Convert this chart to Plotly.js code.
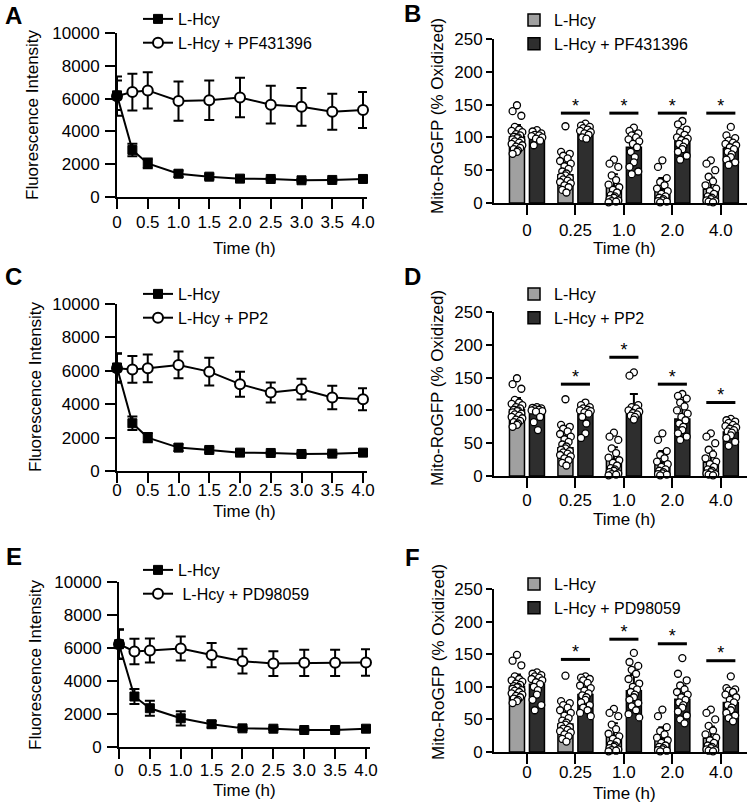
<!DOCTYPE html>
<html>
<head>
<meta charset="utf-8">
<script src="https://cdn.plot.ly/plotly-3.0.1.min.js"></script>
<style>html,body{margin:0;padding:0;background:#fff;}#chart{width:749px;height:810px;}</style>
</head>
<body>
<div id="chart"></div>
<script>
// ---------------- DATA ----------------
const lineTime = [0, 0.25, 0.5, 1.0, 1.5, 2.0, 2.5, 3.0, 3.5, 4.0];
const timeTickVals = [0, 0.5, 1.0, 1.5, 2.0, 2.5, 3.0, 3.5, 4.0];
const timeTickText = ['0', '0.5', '1.0', '1.5', '2.0', '2.5', '3.0', '3.5', '4.0'];
const fluoTickVals = [0, 2000, 4000, 6000, 8000, 10000];

// Panel A
const hcyA    = [6200, 2870, 2050, 1420, 1240, 1120, 1100, 1020, 1040, 1100];
const hcyA_sd = [900, 380, 300, 200, 150, 100, 80, 80, 80, 80];
const pfA     = [6150, 6400, 6500, 5850, 5900, 6070, 5630, 5500, 5200, 5300];
const pfA_sd  = [1200, 1120, 1100, 1200, 1200, 1200, 1150, 1150, 1100, 1100];
// Panel C
const hcyC    = [6200, 2860, 2000, 1400, 1260, 1100, 1080, 1020, 1040, 1100];
const hcyC_sd = [850, 400, 280, 200, 150, 100, 80, 80, 80, 80];
const pp2C    = [6150, 6080, 6150, 6350, 5950, 5200, 4700, 4900, 4400, 4300];
const pp2C_sd = [870, 800, 830, 800, 830, 750, 600, 620, 700, 660];
// Panel E
const hcyE    = [6230, 3060, 2350, 1740, 1380, 1130, 1110, 1030, 1030, 1110];
const hcyE_sd = [900, 450, 450, 430, 200, 100, 80, 80, 80, 80];
const pdE     = [6230, 5790, 5850, 5970, 5570, 5200, 5060, 5100, 5100, 5120];
const pdE_sd  = [870, 770, 730, 730, 730, 750, 750, 800, 800, 800];

// Bar panels
const barTimes = ['0', '0.25', '1.0', '2.0', '4.0'];
const roTickVals = [0, 50, 100, 150, 200, 250];
// L-Hcy (control) bars, shared across B, D, F
const ctrlMean = [101, 43, 25, 21, 21];
const ctrlSD   = [18, 26, 19, 17, 18];
const ctrlPts0   = [149,140,133,116,112,110,108,105,103,101,100,99,97,95,94,92,90,88,86,84,82,80,78,75];
const ctrlPts025 = [117,78,75,72,68,64,60,56,52,48,45,42,40,38,36,34,32,30,27,24,20,16];
const ctrlPts1   = [66,60,55,42,35,28,24,20,16,12,10,8,6,4,3,2,1];
const ctrlPts2   = [65,55,38,32,27,22,18,14,10,8,6,4,3,2,1];
const ctrlPts4   = [65,60,50,40,33,27,22,18,14,10,8,6,4,3,2,1];
// Panel B: + PF431396
const pfMean = [102, 106, 85, 96, 83];
const pfSD   = [6, 8, 22, 12, 13];
const pfPts0   = [111,109,106,104,103,102,100,98,95,88];
const pfPts025 = [121,118,116,114,112,110,108,106,104,100,98];
const pfPts1   = [115,110,106,103,100,97,94,90,85,78,70,62,55,48,44];
const pfPts2   = [125,120,112,108,104,100,98,96,93,90,86,82,78,72,66];
const pfPts4   = [116,103,99,95,92,90,88,85,82,78,74,70,66,62,58];
const sigB = [null, 137, 137, 137, 137];
// Panel D: + PP2
const pp2Mean = [98, 97, 103, 87, 67];
const pp2SD   = [6, 12, 22, 25, 14];
const pp2Pts0   = [105,104,103,102,101,100,99,98,90,82,70];
const pp2Pts025 = [112,108,105,103,101,100,99,97,95,90,80,65,58];
const pp2Pts1   = [158,153,108,105,103,100,98,96,94,92,90,86];
const pp2Pts2   = [125,122,118,112,106,100,95,90,85,80,75,70,65,60,55];
const pp2Pts4   = [87,85,83,81,78,76,74,72,70,68,66,62,58,52,46];
const sigD = [null, 140, 181, 140, 112];
// Panel F: + PD98059
const pdMean = [104, 88, 94, 81, 76];
const pdSD   = [14, 18, 24, 21, 15];
const pdPts0   = [122,120,118,116,114,112,110,107,104,100,95,88,80,72,64];
const pdPts025 = [116,114,112,110,106,102,98,94,90,87,84,80,76,72,68,64,60,55];
const pdPts1   = [152,138,132,126,120,112,105,100,96,92,88,84,80,75,70,64,58,53];
const pdPts2   = [144,120,110,102,96,92,88,84,80,76,72,68,62,56,50,44];
const pdPts4   = [116,98,96,94,92,88,84,80,76,72,68,64,60,56,52,47];
const sigF = [null, 142, 173, 166, 140];

// ---------------- BUILD ----------------
const W = 749, H = 810;
const FONT = 'Liberation Sans, Arial, Helvetica, sans-serif';
const LIGHT = '#a0a0a0', DARK = '#2e2e2e';
function dx(a, b) { return [a / W, b / W]; }
function dy(top, bottom) { return [1 - bottom / H, 1 - top / H]; }

const traces = [];
const annotations = [];

function linePanel(n, hcy, hcySd, drug, drugSd, drugName) {
  const ax = n === 1 ? '' : String(n);
  const leg = n === 1 ? 'legend' : 'legend' + n;
  traces.push({
    type: 'scatter', mode: 'lines+markers', x: lineTime, y: drug, name: drugName,
    xaxis: 'x' + ax, yaxis: 'y' + ax, legend: leg, legendrank: 2, cliponaxis: false,
    line: {color: 'black', width: 2},
    marker: {symbol: 'circle', size: 10, color: 'white', line: {color: 'black', width: 2}},
    error_y: {type: 'data', array: drugSd, visible: true, color: 'black', thickness: 2, width: 5}
  });
  traces.push({
    type: 'scatter', mode: 'lines+markers', x: lineTime, y: hcy, name: 'L-Hcy',
    xaxis: 'x' + ax, yaxis: 'y' + ax, legend: leg, legendrank: 1, cliponaxis: false,
    line: {color: 'black', width: 2},
    marker: {symbol: 'square', size: 9, color: 'black', line: {color: 'black', width: 1}},
    error_y: {type: 'data', array: hcySd, visible: true, color: 'black', thickness: 2, width: 5}
  });
}

const JIT = [0, -0.09, 0.09, -0.045, 0.045, -0.11, 0.11, -0.02, 0.065, -0.065, 0.02];
function dotTrace(ax, center, pts) {
  return {
    type: 'scatter', mode: 'markers', showlegend: false, cliponaxis: false,
    xaxis: 'x' + ax, yaxis: 'y' + ax,
    x: pts.map((v, k) => center + JIT[k % JIT.length]), y: pts,
    marker: {symbol: 'circle', size: 7, color: 'white', line: {color: 'black', width: 1.3}}
  };
}

function barPanel(n, ctrlPtsList, drugMean, drugSd, drugPtsList, sig, drugName) {
  const ax = String(n);
  const leg = 'legend' + n;
  const idx = barTimes.map((t, i) => i);
  const off = 0.206, bw = 0.31;
  traces.push({
    type: 'bar', x: idx, y: ctrlMean, name: 'L-Hcy', xaxis: 'x' + ax, yaxis: 'y' + ax,
    legend: leg, legendrank: 1, width: bw, offset: -off - bw / 2,
    marker: {color: LIGHT, line: {color: 'black', width: 1.5}},
    error_y: {type: 'data', symmetric: false, array: ctrlSD, arrayminus: ctrlSD.map(() => 0), color: 'black', thickness: 2, width: 4}
  });
  traces.push({
    type: 'bar', x: idx, y: drugMean, name: drugName, xaxis: 'x' + ax, yaxis: 'y' + ax,
    legend: leg, legendrank: 2, width: bw, offset: off - bw / 2,
    marker: {color: DARK, line: {color: 'black', width: 1.5}},
    error_y: {type: 'data', symmetric: false, array: drugSd, arrayminus: drugSd.map(() => 0), color: 'black', thickness: 2, width: 4}
  });
  ctrlPtsList.forEach((pts, i) => traces.push(dotTrace(ax, i - off, pts)));
  drugPtsList.forEach((pts, i) => traces.push(dotTrace(ax, i + off, pts)));
  // significance bars and stars
  const lx = [], ly = [], sx = [], sy = [];
  sig.forEach((s, i) => {
    if (s === null) return;
    lx.push(i - 0.3, i + 0.3, null); ly.push(s, s, null);
    sx.push(i); sy.push(s + 9);
  });
  traces.push({type: 'scatter', mode: 'lines', x: lx, y: ly, xaxis: 'x' + ax, yaxis: 'y' + ax,
    showlegend: false, cliponaxis: false, line: {color: 'black', width: 3}});
  traces.push({type: 'scatter', mode: 'text', x: sx, y: sy, text: sx.map(() => '*'), xaxis: 'x' + ax, yaxis: 'y' + ax,
    showlegend: false, cliponaxis: false, textposition: 'middle center', textfont: {size: 18, color: 'black', family: FONT}});
}

linePanel(1, hcyA, hcyA_sd, pfA, pfA_sd, 'L-Hcy + PF431396');
barPanel(2, [ctrlPts0, ctrlPts025, ctrlPts1, ctrlPts2, ctrlPts4], pfMean, pfSD,
  [pfPts0, pfPts025, pfPts1, pfPts2, pfPts4], sigB, 'L-Hcy + PF431396');
linePanel(3, hcyC, hcyC_sd, pp2C, pp2C_sd, 'L-Hcy + PP2');
barPanel(4, [ctrlPts0, ctrlPts025, ctrlPts1, ctrlPts2, ctrlPts4], pp2Mean, pp2SD,
  [pp2Pts0, pp2Pts025, pp2Pts1, pp2Pts2, pp2Pts4], sigD, 'L-Hcy + PP2');
linePanel(5, hcyE, hcyE_sd, pdE, pdE_sd, ' L-Hcy + PD98059');
barPanel(6, [ctrlPts0, ctrlPts025, ctrlPts1, ctrlPts2, ctrlPts4], pdMean, pdSD,
  [pdPts0, pdPts025, pdPts1, pdPts2, pdPts4], sigF, 'L-Hcy + PD98059');

const axBase = {showline: true, linecolor: 'black', linewidth: 2, ticks: 'outside', tickcolor: 'black',
  tickwidth: 2, showgrid: false, zeroline: false, fixedrange: true,
  tickfont: {size: 17, color: 'black', family: FONT}};

function lineAxes(xd, yd, ax, xStand) {
  return {
    x: Object.assign({}, axBase, {domain: xd, range: [0, 4.065], tickvals: timeTickVals, ticktext: timeTickText,
      ticklen: 10, anchor: 'y' + ax, ticklabelstandoff: xStand}),
    y: Object.assign({}, axBase, {domain: yd, range: [0, 10000], tickvals: fluoTickVals, tickformat: 'd',
      ticklen: 10, anchor: 'x' + ax, ticklabelstandoff: 2})
  };
}
function barAxes(xd, yd, ax, xStand) {
  return {
    x: Object.assign({}, axBase, {domain: xd, range: [-0.68, 4.54], tickvals: barTimes.map((t, i) => i),
      ticktext: barTimes, ticklen: 10, anchor: 'y' + ax, ticklabelstandoff: xStand}),
    y: Object.assign({}, axBase, {domain: yd, range: [0, 250], tickvals: roTickVals, ticklen: 6,
      anchor: 'x' + ax})
  };
}

const A = lineAxes(dx(117, 367), dy(33, 197), '', -1);
const B = barAxes(dx(494, 747), dy(39, 203), '2', 1);
const C = lineAxes(dx(117, 367), dy(304, 471), '3', -7);
const D = barAxes(dx(494, 747), dy(312, 476), '4', -2);
const E = lineAxes(dx(119, 370), dy(582, 747), '5', -3);
const F = barAxes(dx(494, 747), dy(589, 752), '6', -6);

function ann(text, xpx, ypx, size, angle) {
  annotations.push({text: text, xref: 'paper', yref: 'paper', x: xpx / W, y: 1 - ypx / H,
    xanchor: 'center', yanchor: 'middle', showarrow: false, textangle: angle || 0,
    font: {size: size, color: 'black', family: FONT}});
}
// axis titles
ann('Fluorescence Intensity', 33, 115, 17, -90);
ann('Time (h)', 245, 248, 17);
ann('Mito-RoGFP (% Oxidized)', 437, 116, 17, -90);
ann('Time (h)', 624, 248, 17);
ann('Fluorescence Intensity', 35, 387, 17, -90);
ann('Time (h)', 245, 511, 17);
ann('Mito-RoGFP (% Oxidized)', 438, 388, 17, -90);
ann('Time (h)', 624, 519, 17);
ann('Fluorescence Intensity', 35, 665, 17, -90);
ann('Time (h)', 245, 790, 17);
ann('Mito-RoGFP (% Oxidized)', 438, 662, 17, -90);
ann('Time (h)', 624, 793, 17);
// panel letters
ann('<b>A</b>', 14, 16, 24);
ann('<b>B</b>', 412, 13, 24);
ann('<b>C</b>', 13, 277, 24);
ann('<b>D</b>', 412, 277, 24);
ann('<b>E</b>', 14, 556, 24);
ann('<b>F</b>', 412, 557, 24);

function legendAt(xpx, ypx) {
  return {x: xpx / W, y: 1 - ypx / H, xanchor: 'left', yanchor: 'top', bgcolor: 'rgba(0,0,0,0)',
    borderwidth: 0, font: {size: 16, color: 'black', family: FONT}, itemwidth: 30, traceorder: 'normal'};
}

const layout = {
  width: W, height: H, margin: {l: 0, r: 0, t: 0, b: 0},
  paper_bgcolor: 'white', plot_bgcolor: 'rgba(0,0,0,0)',
  font: {family: FONT, color: 'black', size: 16},
  showlegend: true, barmode: 'overlay',
  xaxis: A.x, yaxis: A.y, xaxis2: B.x, yaxis2: B.y, xaxis3: C.x, yaxis3: C.y,
  xaxis4: D.x, yaxis4: D.y, xaxis5: E.x, yaxis5: E.y, xaxis6: F.x, yaxis6: F.y,
  legend: legendAt(138, 2), legend2: legendAt(514, 3), legend3: legendAt(138, 277),
  legend4: legendAt(514, 277), legend5: legendAt(138, 553), legend6: legendAt(514, 567),
  annotations: annotations
};

Plotly.newPlot('chart', traces, layout, {staticPlot: true, displayModeBar: false});
</script>
</body>
</html>
